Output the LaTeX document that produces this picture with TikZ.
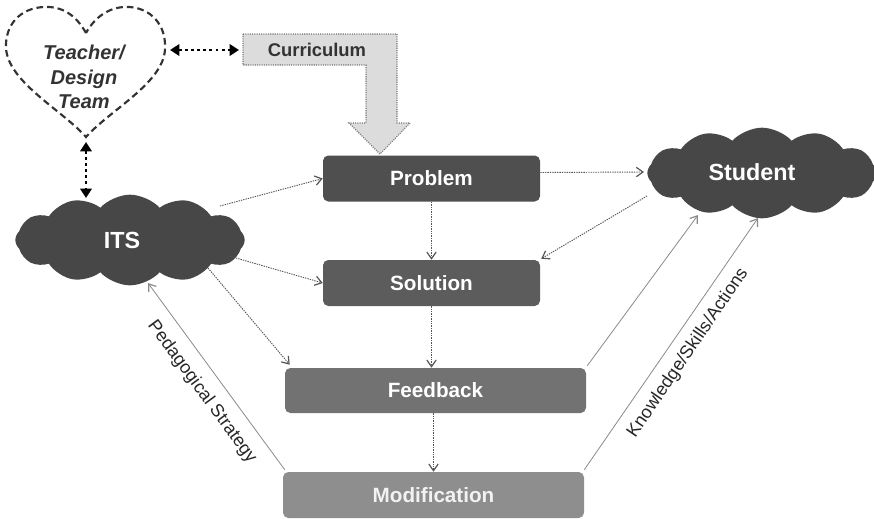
\documentclass[tikz,border=0pt]{standalone}
\usepackage{fontspec}
\setmainfont{Liberation Sans}
\usetikzlibrary{arrows.meta,shapes.symbols,calc}
\definecolor{cloudfill}{HTML}{474747}
\definecolor{probfill}{HTML}{4F4F4F}
\definecolor{solfill}{HTML}{5C5C5C}
\definecolor{feedfill}{HTML}{727272}
\definecolor{modfill}{HTML}{8E8E8E}
\definecolor{currfill}{HTML}{DCDCDC}
\definecolor{linkgray}{HTML}{555555}
\definecolor{solidgray}{HTML}{8A8A8A}
\definecolor{heartink}{HTML}{333333}
\begin{document}
\begin{tikzpicture}[x=0.75pt,y=-0.75pt,
  stagebox/.style={rectangle,rounded corners=4pt,draw=none,text=white,
    font=\fontsize{15.5}{18}\selectfont\bfseries,inner sep=0pt},
  puff/.style={cloud,cloud puffs=12,cloud puff arc=95,aspect=2.6,
    fill=cloudfill,draw=none,inner sep=0pt},
  puffText/.style={text=white,font=\fontsize{17.5}{20}\selectfont\bfseries},
  dotlink/.style={draw=linkgray,line width=0.7pt,dash pattern=on 1pt off 0.8pt,
    -{Straight Barb[length=5pt,width=7pt,line width=0.9pt]}},
  solidlink/.style={draw=solidgray,line width=0.6pt,
    -{Straight Barb[length=5pt,width=7pt,line width=0.9pt]}},
  bigdots/.style={draw=black,line width=2pt,dash pattern=on 2.2pt off 2.4pt,
    {Triangle[length=7pt,width=8.5pt]}-{Triangle[length=7pt,width=8.5pt]}},
  sidelabel/.style={font=\fontsize{13.5}{16}\selectfont,text=black!85}]

\useasboundingbox (0,0) rectangle (874,518);

% Teacher / design team heart
\draw[heartink,line width=1.6pt,dash pattern=on 5pt off 3pt]
  (86,33) .. controls (76,15) and (62,6) .. (44,7)
  .. controls (20,8) and (5,25) .. (6,48)
  .. controls (8,82) and (62,110) .. (86,137)
  .. controls (110,110) and (165,82) .. (165,48)
  .. controls (166,24) and (150,8) .. (129,7)
  .. controls (112,6) and (96,15) .. (86,33);
\node[align=center,text=heartink,font=\fontsize{15}{18.5}\selectfont\bfseries\itshape]
  (team) at (84,77) {Teacher/\\Design\\Team};
\coordinate (heartright) at (170,50);
\coordinate (heartbottom) at (86,142);

% Curriculum bent arrow
\draw[fill=currfill,draw=black!55,line width=0.8pt,dash pattern=on 0.8pt off 0.9pt]
  (243,34) -- (397,34) -- (397,123) -- (410,123) -- (380,154) -- (349,123)
  -- (366,123) -- (366,65) -- (243,65) -- cycle;
\node[font=\fontsize{13.8}{16}\selectfont\bfseries,text=black!80] (curr) at (317,49.5) {Curriculum};
\coordinate (currleft) at (239,50);

% Clouds, with their titles set a little left of centre
\node[puff,minimum width=172pt,minimum height=68pt] (its) at (130,240) {};
\node[puffText] (itstext) at (122,240) {ITS};
\node[puff,minimum width=172pt,minimum height=68pt] (stud) at (762,173) {};
\node[puffText] (studtext) at (752,172) {Student};

% Stage boxes
\node[stagebox,fill=probfill,minimum width=162.75pt,minimum height=34.5pt] (prob) at (431.5,178.5) {Problem};
\node[stagebox,fill=solfill,minimum width=162.75pt,minimum height=34.5pt] (sol) at (431.5,283) {Solution};
\node[stagebox,fill=feedfill,minimum width=225.75pt,minimum height=33.75pt] (feed) at (435.5,390.5) {Feedback};
\node[stagebox,fill=modfill,minimum width=225.75pt,minimum height=34.5pt,text=white!95!black] (mod) at (433.5,495) {Modification};

% Thick dotted two-way links
\draw[bigdots] (heartright) -- (currleft);
\draw[bigdots] (heartbottom) -- ($(its.center)+(-44,-42)$);

% Dotted flow links
\draw[dotlink] ($(its.center)+(90,-34)$) -- (prob.west);
\draw[dotlink] ($(its.center)+(99,16)$) -- (sol.west);
\draw[dotlink] ($(its.center)+(78,28)$) -- ($(feed.north west)+(5,-3)$);
\draw[dotlink] (prob.south) -- (prob.south |- sol.north);
\draw[dotlink] (sol.south) -- (sol.south |- feed.north);
\draw[dotlink] (feed.south -| mod.north) -- (mod.north);
\draw[dotlink] ($(prob.east)+(0,-6)$) -- ($(stud.center)+(-118,-1)$);
\draw[dotlink] ($(stud.center)+(-115,23)$) -- ($(sol.north east)+(1,-1)$);

% Solid links back to the clouds
\draw[solidlink] ($(feed.north east)+(1,-2)$) -- ($(stud.center)+(-64,42)$);
\draw[solidlink] ($(mod.north east)+(0,-2)$) -- ($(stud.center)+(-4,45)$);
\draw[solidlink] ($(mod.north west)+(2,-2)$) -- ($(its.center)+(18,43)$);

% Rotated labels
\node[sidelabel,rotate=55.7] (ksalabel) at (688,353) {Knowledge/Skills/Actions};
\node[sidelabel,rotate=-53.6] (pedlabel) at (202,392) {Pedagogical Strategy};

\end{tikzpicture}
\end{document}
